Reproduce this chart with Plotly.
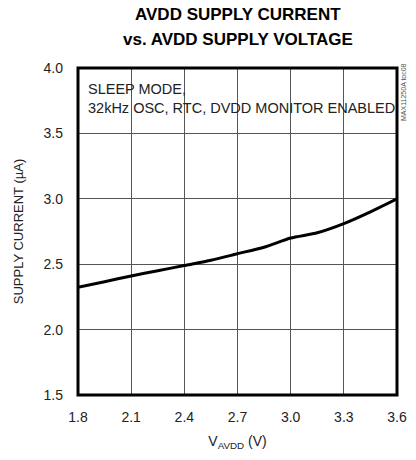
import plotly.graph_objects as go

voltage = [1.80, 1.95, 2.10, 2.25, 2.40, 2.55, 2.70, 2.85, 3.00, 3.15, 3.30, 3.45, 3.60]
current = [2.324, 2.366, 2.41, 2.45, 2.49, 2.53, 2.58, 2.63, 2.70, 2.74, 2.81, 2.90, 3.00]

x_ticks = [1.8, 2.1, 2.4, 2.7, 3.0, 3.3, 3.6]
y_ticks = [1.5, 2.0, 2.5, 3.0, 3.5, 4.0]

FONT = "Liberation Sans, Arial, Helvetica, sans-serif"

fig = go.Figure()
fig.add_trace(go.Scatter(x=voltage, y=current, mode="lines",
                         line=dict(color="black", width=3, shape="spline", smoothing=0.6),
                         showlegend=False, hoverinfo="skip"))

fig.update_layout(
    width=416, height=460,
    margin=dict(l=78, r=9, t=68, b=65),
    paper_bgcolor="white", plot_bgcolor="white",
    font=dict(family=FONT, color="#222", size=14),
    xaxis=dict(range=[1.8, 3.6], tickvals=x_ticks, ticktext=[f"{v:.1f}" for v in x_ticks],
               showgrid=True, gridcolor="#555", gridwidth=1, zeroline=False,
               ticks="", ticklabelstandoff=12, ticklabeloverflow="allow",
               title=dict(text="V<sub>AVDD</sub> (V)", standoff=12, font=dict(size=14))),
    yaxis=dict(range=[1.5, 4.0], tickvals=y_ticks, ticktext=[f"{v:.1f}" for v in y_ticks],
               showgrid=True, gridcolor="#555", gridwidth=1, zeroline=False,
               ticks="", ticklabelstandoff=14, ticklabeloverflow="allow",
               title=dict(text="SUPPLY CURRENT (µA)", standoff=16, font=dict(size=13))),
    shapes=[dict(type="rect", xref="paper", yref="paper", x0=0, y0=0, x1=1, y1=1,
                 line=dict(color="black", width=3), layer="above")],
    annotations=[
        dict(text="<b>AVDD SUPPLY CURRENT</b>", xref="paper", yref="paper", x=0.5, y=1,
             xanchor="center", yanchor="middle", yshift=54, showarrow=False,
             font=dict(size=17, color="black")),
        dict(text="<b>vs. AVDD SUPPLY VOLTAGE</b>", xref="paper", yref="paper", x=0.5, y=1,
             xanchor="center", yanchor="middle", yshift=29, showarrow=False,
             font=dict(size=17, color="black")),
        dict(text="SLEEP MODE,",
             xref="paper", yref="paper", x=0.025, y=1, yshift=-21, xanchor="left", yanchor="middle",
             align="left", showarrow=False, font=dict(size=14.5, color="#222")),
        dict(text="32kHz OSC, RTC, DVDD MONITOR ENABLED",
             xref="paper", yref="paper", x=0.025, y=1, yshift=-39.5, xanchor="left", yanchor="middle",
             align="left", showarrow=False, font=dict(size=14.5, color="#222")),
        dict(text="MAX11250A toc08", xref="paper", yref="paper", x=1.0, y=1.02,
             xanchor="left", yanchor="top", xshift=1, textangle=-90, showarrow=False,
             font=dict(size=7, color="#555")),
    ],
)

fig.write_html("out.html", config={"displayModeBar": False},
               post_script="document.body.style.margin='0px';")
